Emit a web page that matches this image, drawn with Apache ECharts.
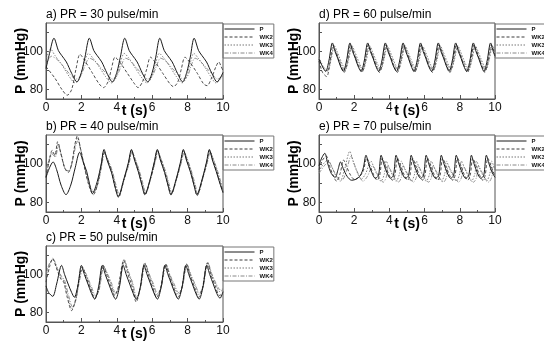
<!DOCTYPE html>
<html>
<head>
<meta charset="utf-8">
<script src="https://cdn.jsdelivr.net/npm/echarts@6/dist/echarts.min.js"></script>
<style>
  html, body { margin: 0; padding: 0; background: #fff; }
  #chart { width: 544px; height: 347px; }
</style>
</head>
<body>
<div id="chart"></div>
<script>
// series names shown in every legend
const seriesNames = ['P', 'WK2', 'WK3', 'WK4'];
const xTicks = [0, 2, 4, 6, 8, 10];
const yLabels = [80, 100];
const yTicks = [80, 90, 100, 110];

// a) PR = 30 pulse/min   [t (s), P (mmHg)]
const a_P = [[0,91],[0.2,99],[0.45,107],[0.7,100.5],[0.88,98],[1.15,94.5],[1.45,88.5],[1.75,84],[2.0,89],[2.2,97],[2.45,107],[2.7,100.5],[2.88,98],[3.15,94.5],[3.45,88.5],[3.75,84],[4.0,89],[4.2,97],[4.45,107],[4.7,100.5],[4.88,98],[5.15,94.5],[5.45,88.5],[5.75,84],[6.0,89],[6.2,97],[6.43,107],[6.68,100.5],[6.86,98],[7.13,94.5],[7.43,88.5],[7.72,84],[7.95,89],[8.15,97],[8.37,107],[8.62,100.5],[8.8,98],[9.07,94.5],[9.37,88.5],[9.67,84],[9.9,87],[10,89]];
const a_WK2 = [[0,92],[0.5,86],[0.9,80],[1.2,77],[1.45,80],[1.7,91],[1.92,98.5],[2.2,95],[2.6,89],[3.0,83],[3.25,81],[3.5,84],[3.7,91],[3.9,97],[4.2,94],[4.6,88.5],[5.0,83],[5.2,81],[5.45,84],[5.7,91],[5.9,97],[6.2,94],[6.6,88.5],[7.0,83],[7.2,81.5],[7.45,84],[7.65,91],[7.85,97],[8.15,94],[8.55,88.5],[8.9,83],[9.1,82],[9.35,86],[9.6,92],[9.76,94.5],[9.9,92],[10,90]];
const a_WK3 = [[0,95],[0.25,101.5],[0.5,98],[0.9,93],[1.3,87],[1.65,83.5],[1.9,86],[2.15,94],[2.4,99],[2.65,96.5],[3.0,92],[3.35,87],[3.7,83.5],[3.95,86],[4.2,94],[4.42,99],[4.68,96.5],[5.0,92],[5.35,87],[5.7,83.5],[5.95,86],[6.2,94],[6.4,99],[6.66,96.5],[7.0,92],[7.35,87],[7.68,83.5],[7.92,86],[8.15,94],[8.35,99],[8.6,96.5],[8.95,92],[9.3,87],[9.6,83.5],[9.85,85.5],[10,88]];
const a_WK4 = [[0,92.5],[0.3,97.5],[0.6,96],[1.0,92],[1.35,88],[1.7,85.5],[1.95,87],[2.2,92.5],[2.45,96.5],[2.75,95],[3.1,91.5],[3.45,88],[3.75,85.5],[4.0,87],[4.25,92.5],[4.48,96.5],[4.78,95],[5.1,91.5],[5.45,88],[5.75,85.5],[6.0,87],[6.25,92.5],[6.47,96.5],[6.76,95],[7.1,91.5],[7.45,88],[7.75,85.5],[8.0,87],[8.2,92.5],[8.42,96.5],[8.7,95],[9.05,91.5],[9.4,88],[9.7,85.5],[10,87.5]];

// b) PR = 40 pulse/min
const b_P = [[0,93],[0.2,98],[0.4,101],[0.6,97],[0.85,89],[1.13,84],[1.4,89],[1.65,98],[1.9,106],[2.1,101],[2.3,96],[2.45,90],[2.62,84.5],[2.9,91],[3.12,100],[3.28,107.5],[3.45,102],[3.7,95.5],[3.9,88],[4.08,83],[4.38,91.5],[4.65,100.5],[4.83,107.5],[5.0,102],[5.23,95.5],[5.43,88.5],[5.58,84],[5.88,92],[6.12,101],[6.29,107.5],[6.46,102],[6.7,95.5],[6.9,88.5],[7.05,84],[7.35,92],[7.6,101],[7.76,107.5],[7.93,102],[8.17,95.5],[8.37,88.5],[8.52,84],[8.82,92],[9.07,101],[9.23,107.5],[9.4,102],[9.62,96],[9.82,90],[10,85]];
const b_WK2 = [[0,93],[0.15,100],[0.35,107],[0.5,104.5],[0.66,111.5],[0.85,105],[1.05,98],[1.25,95.5],[1.45,100],[1.63,110],[1.77,114.5],[1.95,108],[2.2,97],[2.45,88],[2.68,84],[2.9,89],[3.1,98],[3.27,106.5],[3.45,102.5],[3.7,96],[3.9,88.5],[4.1,82.5],[4.38,91],[4.65,100],[4.83,107],[5.0,102.5],[5.23,96],[5.43,89],[5.6,84],[5.88,91.5],[6.12,100.5],[6.3,107],[6.47,102.5],[6.7,96],[6.9,89],[7.07,84],[7.35,91.5],[7.6,100.5],[7.77,107],[7.94,102.5],[8.17,96],[8.37,89],[8.54,83.5],[8.82,91.5],[9.07,100.5],[9.24,107],[9.41,102.5],[9.63,96.5],[9.83,90],[10,85.5]];
const b_WK3 = [[0,96],[0.15,101.5],[0.35,106],[0.5,104],[0.68,110.5],[0.88,104],[1.08,97.5],[1.28,96],[1.48,101],[1.65,110],[1.78,113.5],[1.96,107.5],[2.2,97.5],[2.45,88.5],[2.7,85],[2.92,89.5],[3.12,98.5],[3.3,106],[3.48,102.5],[3.72,96.5],[3.92,89],[4.12,83.5],[4.4,91.5],[4.67,100],[4.85,106.5],[5.02,103],[5.25,96.5],[5.45,89.5],[5.62,84.5],[5.9,92],[6.14,100.5],[6.31,106.5],[6.48,103],[6.72,96.5],[6.92,89.5],[7.09,84.5],[7.37,92],[7.62,100.5],[7.79,106.5],[7.96,103],[8.19,96.5],[8.39,89.5],[8.56,84],[8.84,92],[9.09,100.5],[9.26,106.5],[9.43,103],[9.65,97],[9.85,90.5],[10,86]];
const b_WK4 = [[0,97],[0.15,101],[0.36,105],[0.52,103.5],[0.7,109],[0.9,103.5],[1.1,97],[1.3,96.5],[1.5,101.5],[1.67,109],[1.8,112],[1.98,106.5],[2.22,97],[2.47,89],[2.72,85.5],[2.94,90],[3.14,98.5],[3.31,105.5],[3.5,102],[3.74,96.5],[3.94,89.5],[4.14,84],[4.42,92],[4.69,100],[4.86,106],[5.04,102.5],[5.27,96.5],[5.47,90],[5.64,85],[5.92,92.5],[6.16,100.5],[6.33,106],[6.5,102.5],[6.74,96.5],[6.94,90],[7.11,85],[7.39,92.5],[7.64,100.5],[7.81,106],[7.98,102.5],[8.21,96.5],[8.41,90],[8.58,84.5],[8.86,92.5],[9.11,100.5],[9.28,106],[9.45,102.5],[9.67,97],[9.87,91],[10,86.5]];

// c) PR = 50 pulse/min
const c_P = [[0,94],[0.15,90.5],[0.38,88.5],[0.6,95],[0.88,104.8],[1.05,100],[1.25,95],[1.45,90.5],[1.6,88],[1.8,94],[2.0,104.8],[2.17,100],[2.37,95],[2.57,90],[2.75,87],[2.97,93.5],[3.18,104.8],[3.35,100],[3.55,95],[3.75,90],[3.93,87],[4.15,93.5],[4.36,104.8],[4.53,100],[4.73,95],[4.93,90],[5.11,87],[5.33,93.5],[5.54,104.8],[5.71,100],[5.91,95],[6.11,90],[6.29,87],[6.51,93.5],[6.72,104.8],[6.89,100],[7.09,95],[7.29,90],[7.47,87],[7.69,93.5],[7.9,104.8],[8.07,100],[8.27,95],[8.47,90],[8.65,87],[8.87,93.5],[9.08,104.8],[9.25,100],[9.45,95],[9.65,90],[9.83,87.5],[10,91]];
const c_WK2 = [[0,96],[0.2,104],[0.38,108.5],[0.6,103],[0.85,97.5],[1.0,96],[1.2,88],[1.45,81],[1.65,86],[1.85,97],[2.05,104],[2.25,99],[2.5,93],[2.75,87.5],[2.95,91],[3.22,105],[3.42,100],[3.65,94],[3.88,89],[4.05,92],[4.4,107.5],[4.6,101],[4.85,94],[5.1,85.5],[5.3,92],[5.58,106],[5.78,100],[6.0,94],[6.25,88],[6.45,92],[6.76,105.5],[6.96,99.5],[7.2,93.5],[7.45,88],[7.65,92],[7.94,105.5],[8.14,99.5],[8.38,93.5],[8.62,88],[8.82,92],[9.12,106],[9.32,100],[9.56,94],[9.8,89],[10,90]];
const c_WK3 = [[0,99],[0.2,105.5],[0.4,108],[0.62,103.5],[0.85,98.5],[1.02,96.5],[1.22,89],[1.47,82],[1.68,86.5],[1.88,97],[2.08,103.5],[2.28,99.5],[2.52,93.5],[2.78,88],[2.98,91.5],[3.25,104.5],[3.45,100.5],[3.68,95],[3.9,89.5],[4.08,92.5],[4.42,108],[4.62,102],[4.88,95],[5.1,87],[5.32,92.5],[5.6,106],[5.8,100.5],[6.03,95],[6.28,89],[6.48,92.5],[6.78,105.5],[6.98,100],[7.22,94.5],[7.47,89.5],[7.67,92.5],[7.96,105.5],[8.16,100],[8.4,94.5],[8.64,89.5],[8.84,92.5],[9.14,106.5],[9.34,100.5],[9.58,95],[9.82,91],[10,92]];
const c_WK4 = [[0,100],[0.2,106],[0.42,107.5],[0.65,103],[0.88,99],[1.05,97],[1.25,90],[1.5,83],[1.7,87],[1.9,97],[2.1,103],[2.3,99.5],[2.55,94],[2.8,89],[3.0,92],[3.27,104],[3.47,100.5],[3.7,95.5],[3.92,90.5],[4.1,93],[4.44,107],[4.64,102],[4.9,95.5],[5.12,88],[5.34,93],[5.62,105.5],[5.82,100.5],[6.05,95.5],[6.3,90],[6.5,93],[6.8,105],[7.0,100],[7.24,95],[7.49,90.5],[7.69,93],[7.98,105],[8.18,100],[8.42,95],[8.66,90.5],[8.86,93],[9.16,106],[9.36,100.5],[9.6,95.5],[9.84,92],[10,92.5]];

// d) PR = 60 pulse/min
const d_P = [[0,96],[0.15,93],[0.38,89.5],[0.56,95],[0.76,104.5],[0.91,100],[1.06,96.5],[1.21,92.5],[1.38,89.5],[1.56,95],[1.76,104.5],[1.91,100],[2.06,96.5],[2.21,92.5],[2.39,89.5],[2.57,95],[2.77,104.5],[2.92,100],[3.07,96.5],[3.22,92.5],[3.39,89.5],[3.57,95],[3.77,104.5],[3.92,100],[4.07,96.5],[4.22,92.5],[4.4,89.5],[4.58,95],[4.78,104.5],[4.93,100],[5.08,96.5],[5.23,92.5],[5.39,89.5],[5.57,95],[5.77,104.5],[5.92,100],[6.07,96.5],[6.22,92.5],[6.4,89.5],[6.58,95],[6.78,104.5],[6.93,100],[7.08,96.5],[7.23,92.5],[7.39,89.5],[7.57,95],[7.77,104.5],[7.92,100],[8.07,96.5],[8.22,92.5],[8.39,89.5],[8.57,95],[8.77,104.5],[8.92,100],[9.07,96.5],[9.22,92.5],[9.37,89.5],[9.55,95],[9.75,104.5],[9.9,100],[10,97.5]];
const d_WK2 = [[0,95],[0.2,89],[0.44,86.8],[0.6,93],[0.8,103.5],[0.95,100],[1.1,96],[1.26,92],[1.43,89],[1.6,94.5],[1.8,103.5],[1.95,100],[2.1,96],[2.26,92],[2.44,89],[2.61,94.5],[2.81,103.5],[2.96,100],[3.11,96],[3.27,92],[3.44,89],[3.61,94.5],[3.81,103.5],[3.96,100],[4.11,96],[4.27,92],[4.45,89],[4.62,94.5],[4.82,103.5],[4.97,100],[5.12,96],[5.28,92],[5.44,89],[5.61,94.5],[5.81,103.5],[5.96,100],[6.11,96],[6.27,92],[6.45,89],[6.62,94.5],[6.82,103.5],[6.97,100],[7.12,96],[7.28,92],[7.44,89],[7.61,94.5],[7.81,103.5],[7.96,100],[8.11,96],[8.27,92],[8.44,89],[8.61,94.5],[8.81,103.5],[8.96,100],[9.11,96],[9.27,92],[9.42,89],[9.59,94.5],[9.79,103.5],[9.94,100],[10,98.5]];
const d_WK3 = [[0,97],[0.25,92],[0.5,90],[0.68,95.5],[0.88,103],[1.03,100],[1.18,96.5],[1.34,93],[1.5,90.5],[1.68,95.5],[1.88,103],[2.03,100],[2.18,96.5],[2.34,93],[2.51,90.5],[2.69,95.5],[2.89,103],[3.04,100],[3.19,96.5],[3.35,93],[3.51,90.5],[3.69,95.5],[3.89,103],[4.04,100],[4.19,96.5],[4.35,93],[4.52,90.5],[4.7,95.5],[4.9,103],[5.05,100],[5.2,96.5],[5.36,93],[5.51,90.5],[5.69,95.5],[5.89,103],[6.04,100],[6.19,96.5],[6.35,93],[6.52,90.5],[6.7,95.5],[6.9,103],[7.05,100],[7.2,96.5],[7.36,93],[7.51,90.5],[7.69,95.5],[7.89,103],[8.04,100],[8.19,96.5],[8.35,93],[8.51,90.5],[8.69,95.5],[8.89,103],[9.04,100],[9.19,96.5],[9.35,93],[9.49,90.5],[9.67,95.5],[9.87,103],[10,100.5]];
const d_WK4 = [[0,96.5],[0.22,91.5],[0.46,89.5],[0.64,95],[0.84,102.5],[0.99,99.5],[1.14,96],[1.3,92.5],[1.46,90],[1.64,95],[1.84,102.5],[1.99,99.5],[2.14,96],[2.3,92.5],[2.47,90],[2.65,95],[2.85,102.5],[3.0,99.5],[3.15,96],[3.31,92.5],[3.47,90],[3.65,95],[3.85,102.5],[4.0,99.5],[4.15,96],[4.31,92.5],[4.48,90],[4.66,95],[4.86,102.5],[5.01,99.5],[5.16,96],[5.32,92.5],[5.47,90],[5.65,95],[5.85,102.5],[6.0,99.5],[6.15,96],[6.31,92.5],[6.48,90],[6.66,95],[6.86,102.5],[7.01,99.5],[7.16,96],[7.32,92.5],[7.47,90],[7.65,95],[7.85,102.5],[8.0,99.5],[8.15,96],[8.31,92.5],[8.47,90],[8.65,95],[8.85,102.5],[9.0,99.5],[9.15,96],[9.31,92.5],[9.45,90],[9.63,95],[9.83,102.5],[10,99]];

// e) PR = 70 pulse/min
const e_P = [[0,99],[0.15,103],[0.33,105.5],[0.5,100],[0.7,95],[0.92,93],[1.08,97],[1.22,101],[1.38,97.5],[1.6,93.5],[1.85,91.5],[2.1,92],[2.35,94],[2.52,98],[2.67,104.5],[2.82,100],[3.0,95.5],[3.2,92.5],[3.38,94],[3.53,104.5],[3.68,100],[3.86,95.5],[4.06,92.5],[4.23,94],[4.38,104.5],[4.53,100],[4.71,95.5],[4.91,92.5],[5.09,94],[5.24,104.5],[5.39,100],[5.57,95.5],[5.77,92.5],[5.94,94],[6.09,104.5],[6.24,100],[6.42,95.5],[6.62,92.5],[6.8,94],[6.95,104.5],[7.1,100],[7.28,95.5],[7.48,92.5],[7.65,94],[7.8,104.5],[7.95,100],[8.13,95.5],[8.33,92.5],[8.51,94],[8.66,104.5],[8.81,100],[8.99,95.5],[9.19,92.5],[9.36,94],[9.51,104.5],[9.66,100],[9.84,95.5],[10,93]];
const e_WK2 = [[0,97],[0.2,102],[0.42,104],[0.6,99],[0.8,94],[1.0,91],[1.2,95],[1.4,102],[1.55,99],[1.8,94],[2.0,92],[2.25,93],[2.5,96],[2.72,103],[2.9,99],[3.1,94.5],[3.3,91.5],[3.45,94],[3.6,103],[3.78,99],[3.97,94.5],[4.17,91.5],[4.31,94],[4.46,103],[4.64,99],[4.83,94.5],[5.03,91.5],[5.17,94],[5.32,103],[5.5,99],[5.69,94.5],[5.89,91.5],[6.02,94],[6.17,103],[6.35,99],[6.54,94.5],[6.74,91.5],[6.88,94],[7.03,103],[7.21,99],[7.4,94.5],[7.6,91.5],[7.73,94],[7.88,103],[8.06,99],[8.25,94.5],[8.45,91.5],[8.59,94],[8.74,103],[8.92,99],[9.11,94.5],[9.31,91.5],[9.44,94],[9.59,103],[9.77,99],[9.96,94.5],[10,94]];
const e_WK3 = [[0,96],[0.25,100],[0.5,102],[0.75,98],[1.0,93],[1.2,91],[1.45,97],[1.75,106.5],[1.95,101],[2.2,95],[2.4,92],[2.65,95],[2.95,101.5],[3.12,98],[3.32,94],[3.52,91],[3.72,95],[3.82,101.5],[3.98,98],[4.18,94],[4.38,91],[4.58,95],[4.67,101.5],[4.84,98],[5.04,94],[5.24,91],[5.44,95],[5.53,101.5],[5.69,98],[5.89,94],[6.09,91],[6.29,95],[6.38,101.5],[6.55,98],[6.75,94],[6.95,91],[7.15,95],[7.24,101.5],[7.4,98],[7.6,94],[7.8,91],[8.0,95],[8.09,101.5],[8.26,98],[8.46,94],[8.66,91],[8.86,95],[8.95,101.5],[9.11,98],[9.31,94],[9.51,91],[9.71,95],[9.8,101.5],[10,97]];
const e_WK4 = [[0,95],[0.3,99],[0.55,101],[0.8,97],[1.05,93],[1.3,91.5],[1.55,96],[1.82,104],[2.02,99.5],[2.27,94],[2.5,91],[2.75,93.5],[3.05,99],[3.25,96],[3.45,92.5],[3.65,90.5],[3.82,93],[3.92,99],[4.11,96],[4.31,92.5],[4.51,90.5],[4.68,93],[4.78,99],[4.96,96],[5.16,92.5],[5.36,90.5],[5.53,93],[5.63,99],[5.82,96],[6.02,92.5],[6.22,90.5],[6.39,93],[6.49,99],[6.67,96],[6.87,92.5],[7.07,90.5],[7.24,93],[7.34,99],[7.53,96],[7.73,92.5],[7.93,90.5],[8.1,93],[8.2,99],[8.38,96],[8.58,92.5],[8.78,90.5],[8.95,93],[9.05,99],[9.24,96],[9.44,92.5],[9.64,90.5],[9.81,93],[9.91,99],[10,97.5]];

const panels = [
  { title: 'a) PR = 30 pulse/min', left: 46, top: 23, width: 177, height: 76, series: [a_P, a_WK2, a_WK3, a_WK4] },
  { title: 'b) PR = 40 pulse/min', left: 46, top: 135, width: 177, height: 77, series: [b_P, b_WK2, b_WK3, b_WK4] },
  { title: 'c) PR = 50 pulse/min', left: 46, top: 246, width: 177, height: 76, series: [c_P, c_WK2, c_WK3, c_WK4] },
  { title: 'd) PR = 60 pulse/min', left: 319, top: 23, width: 176, height: 76, series: [d_P, d_WK2, d_WK3, d_WK4] },
  { title: 'e) PR = 70 pulse/min', left: 319, top: 135, width: 176, height: 77, series: [e_P, e_WK2, e_WK3, e_WK4] },
];

const lineStyles = [
  { color: '#1a1a1a', type: 'solid', width: 1 },
  { color: '#3a3a3a', type: [3, 2], width: 0.9 },
  { color: '#777', type: [1.5, 1.5], width: 0.9 },
  { color: '#888', type: [4, 1.5, 1, 1.5], width: 0.9 },
];

const font = 'Liberation Sans';

const options = {
  animation: false,
  backgroundColor: '#fff',
  textStyle: { fontFamily: font },
  title: panels.map((p) => ({
    text: p.title,
    left: p.left,
    top: p.top - 14,
    padding: 0,
    textStyle: { fontSize: 12, fontWeight: 'normal', color: '#000', fontFamily: font },
  })),
  legend: panels.map((p) => ({
    data: seriesNames,
    orient: 'vertical',
    left: p.left + p.width,
    top: p.top + 1,
    itemWidth: 30,
    itemHeight: 5,
    itemGap: 2,
    padding: [2, 1, 2, 1],
    borderColor: '#777',
    borderWidth: 1,
    selectedMode: false,
    itemStyle: { opacity: 0 },
    lineStyle: { width: 1 },
    textStyle: { fontSize: 6, fontWeight: 'bold', color: '#111', lineHeight: 6, fontFamily: font },
  })),
  grid: panels.map((p) => ({
    left: p.left,
    top: p.top,
    width: p.width,
    height: p.height,
    show: true,
    borderColor: '#555',
    borderWidth: 1,
  })),
  xAxis: panels.map((p, i) => ({
    type: 'value',
    gridIndex: i,
    min: xTicks[0],
    max: xTicks[xTicks.length - 1],
    interval: 2,
    name: 't (s)',
    nameLocation: 'middle',
    nameGap: 5,
    nameMoveOverlap: false,
    nameTextStyle: { fontSize: 14, fontWeight: 'bold', color: '#000', fontFamily: font },
    axisLine: { lineStyle: { color: '#555' } },
    axisTick: { inside: true, length: 4, lineStyle: { color: '#555' } },
    minorTick: { show: true, splitNumber: 2, length: 2, lineStyle: { color: '#555' } },
    axisLabel: { fontSize: 12, color: '#111', margin: 3, fontFamily: font },
    splitLine: { show: false },
  })),
  yAxis: panels.map((p, i) => ({
    type: 'value',
    gridIndex: i,
    min: 75,
    max: 115,
    name: 'P (mmHg)',
    nameLocation: 'middle',
    nameRotate: 90,
    nameGap: 18,
    nameMoveOverlap: false,
    nameTextStyle: { fontSize: 14, fontWeight: 'bold', color: '#000', fontFamily: font },
    axisLine: { lineStyle: { color: '#555' } },
    axisTick: { inside: true, length: 3, customValues: yTicks, lineStyle: { color: '#555' } },
    axisLabel: { fontSize: 12, color: '#111', margin: 3, customValues: yLabels, fontFamily: font },
    splitLine: { show: false },
  })),
  series: [],
};

panels.forEach((p, i) => {
  p.series.forEach((data, k) => {
    options.series.push({
      type: 'line',
      name: seriesNames[k],
      xAxisIndex: i,
      yAxisIndex: i,
      data: data,
      symbol: 'none',
      smooth: 0.3,
      color: lineStyles[k].color,
      lineStyle: lineStyles[k],
      z: 10 - k,
    });
  });
});

const myChart = echarts.init(document.getElementById('chart'));
myChart.setOption(options);
</script>
</body>
</html>
